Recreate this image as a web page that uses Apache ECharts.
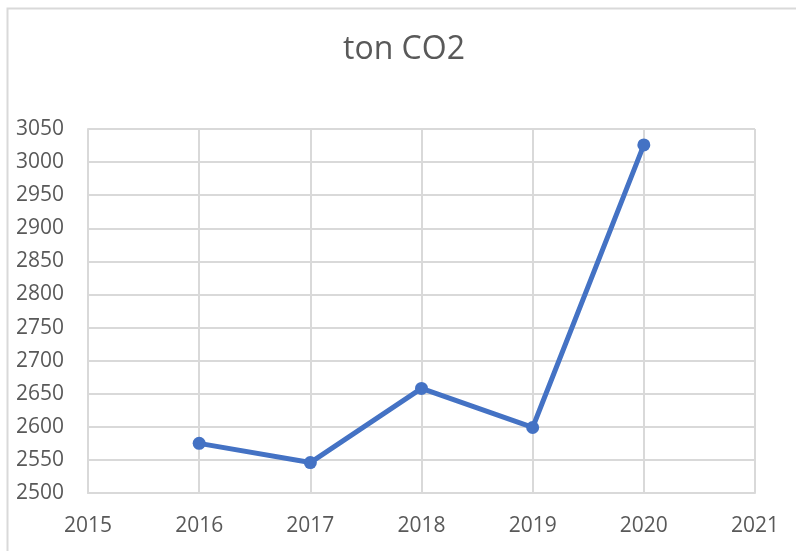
<!DOCTYPE html>
<html><head><meta charset="utf-8">
<script src="https://cdn.jsdelivr.net/npm/echarts@6/dist/echarts.min.js"></script>
<style>html,body{margin:0;padding:0;background:#fff}#c{width:796px;height:551px}</style>
</head><body><div id="c"></div>
<script>
const years = [2016, 2017, 2018, 2019, 2020];
const tonCO2 = [2575, 2546, 2658, 2599, 3026];
const title = 'ton CO2';

const chart = echarts.init(document.getElementById('c'), null, {renderer: 'canvas'});
const font = '"Open Sans", sans-serif';
const plain = v => String(v);
chart.setOption({
  animation: false,
  backgroundColor: '#fff',
  graphic: [{
    type: 'rect', left: 5, top: 6, z: -10,
    shape: {width: 900, height: 700},
    style: {fill: 'none', stroke: '#d9d9d9', lineWidth: 2}
  }],
  title: {
    text: title, left: 338, top: 29,
    textStyle: {fontFamily: font, fontSize: 32, fontWeight: 'normal', color: '#595959'}
  },
  grid: {left: 88, right: 41, top: 129, bottom: 58, containLabel: false},
  xAxis: {
    type: 'value', min: 2015, max: 2021, interval: 1,
    axisLine: {show: true, lineStyle: {color: '#d9d9d9', width: 2}},
    axisTick: {show: false},
    splitLine: {show: true, lineStyle: {color: '#d9d9d9', width: 2}},
    axisLabel: {fontFamily: font, fontSize: 21, color: '#595959', margin: 23, formatter: plain}
  },
  yAxis: {
    type: 'value', min: 2500, max: 3050, interval: 50,
    axisLine: {show: true, lineStyle: {color: '#d9d9d9', width: 2}},
    axisTick: {show: false},
    splitLine: {show: true, lineStyle: {color: '#d9d9d9', width: 2}},
    axisLabel: {fontFamily: font, fontSize: 21, color: '#595959', margin: 24, formatter: plain}
  },
  series: [{
    type: 'line',
    data: years.map((y, i) => [y, tonCO2[i]]),
    lineStyle: {color: '#4472C4', width: 5},
    itemStyle: {color: '#4472C4'},
    symbol: 'circle', symbolSize: 13
  }]
});
</script></body></html>
